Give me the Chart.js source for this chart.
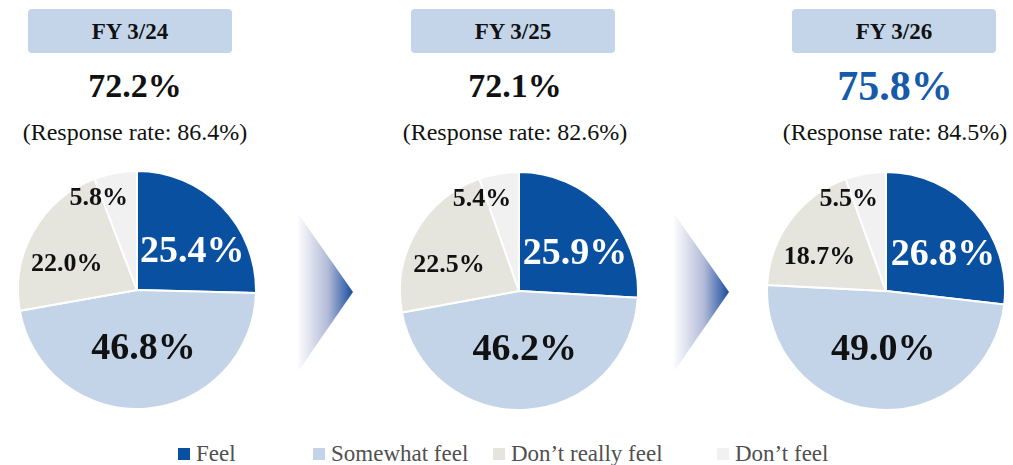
<!DOCTYPE html>
<html>
<head>
<meta charset="utf-8">
<script src="https://cdn.jsdelivr.net/npm/chart.js@4"></script>
<style>
  html, body { margin: 0; padding: 0; background: #fff; }
  body { width: 1013px; height: 465px; position: relative; overflow: hidden;
         font-family: "Liberation Serif", "Times New Roman", serif; }
  .period { position: absolute; top: 9px; width: 204px; height: 44px; background: #c4d5e9;
            border-radius: 4px; font-weight: bold; font-size: 23px; line-height: 46px;
            text-align: center; color: #111; }
  .total { position: absolute; top: 66px; width: 260px; text-align: center; font-weight: bold;
           font-size: 34px; line-height: 40px; color: #111; }
  .total.latest { color: #165aaa; font-size: 42px; }
  .rate { position: absolute; top: 117px; width: 260px; text-align: center; font-size: 24px;
          line-height: 30px; color: #111; }
  .pie { position: absolute; }
  .arrow { position: absolute; }
  .legend-item { position: absolute; top: 443px; height: 22px; font-size: 23px; line-height: 22px;
                 color: #505050; white-space: nowrap; }
  .legend-item span { display: inline-block; width: 12px; height: 12px; margin-right: 6px;
                      vertical-align: 1px; }
</style>
</head>
<body>
<script>
// survey answers per fiscal year, in percent
const categories = ['Feel', 'Somewhat feel', 'Don\u2019t really feel', 'Don\u2019t feel'];
const periods = ['FY 3/24', 'FY 3/25', 'FY 3/26'];
const feel = [25.4, 25.9, 26.8];
const somewhatFeel = [46.8, 46.2, 49.0];
const notReallyFeel = [22.0, 22.5, 18.7];
const notFeel = [5.8, 5.4, 5.5];
const positiveShare = [72.2, 72.1, 75.8];
const responseRate = [86.4, 82.6, 84.5];

const sliceColors = ['#0a50a1', '#c3d4e8', '#e5e5dd', '#f1f1f1'];
const labelColors = ['#ffffff', '#111111', '#111111', '#111111'];
const labelSizes = [38, 38, 26, 26];
// where each value label sits: share of the radius, and a turn (deg) off the slice middle
const labelRadius = [0.57, 0.49, 0.63, 0.84];
const labelTurn = [9, -2, -9, -12];

// panel layout
const boxLeft = [28, 411, 792];
const textCenter = [135, 515, 895];
const pieCenter = [[137, 290], [519, 291], [886, 291]];
const pieSize = 240;

const sliceLabels = {
  id: 'sliceLabels',
  afterDatasetsDraw(chart) {
    const ctx = chart.ctx;
    const ds = chart.data.datasets[0];
    chart.getDatasetMeta(0).data.forEach((arc, i) => {
      const p = arc.getProps(['x', 'y', 'startAngle', 'endAngle', 'outerRadius'], true);
      const a = (p.startAngle + p.endAngle) / 2 + labelTurn[i] * Math.PI / 180;
      const r = p.outerRadius * labelRadius[i];
      ctx.save();
      ctx.font = 'bold ' + labelSizes[i] + 'px "Liberation Serif", serif';
      ctx.fillStyle = labelColors[i];
      ctx.textAlign = 'center';
      ctx.textBaseline = 'middle';
      ctx.fillText(ds.data[i].toFixed(1) + '%', p.x + Math.cos(a) * r, p.y + Math.sin(a) * r + 1);
      ctx.restore();
    });
  }
};

function addDiv(cls, text, left) {
  const d = document.createElement('div');
  d.className = cls;
  d.textContent = text;
  d.style.left = left + 'px';
  document.body.appendChild(d);
  return d;
}

periods.forEach((label, k) => {
  addDiv('period', label, boxLeft[k]);
  addDiv('total' + (k === periods.length - 1 ? ' latest' : ''), positiveShare[k].toFixed(1) + '%', textCenter[k] - 130);
  addDiv('rate', '(Response rate: ' + responseRate[k].toFixed(1) + '%)', textCenter[k] - 130);

  const canvas = document.createElement('canvas');
  canvas.className = 'pie';
  canvas.width = pieSize;
  canvas.height = pieSize;
  canvas.style.left = (pieCenter[k][0] - pieSize / 2) + 'px';
  canvas.style.top = (pieCenter[k][1] - pieSize / 2) + 'px';
  document.body.appendChild(canvas);

  new Chart(canvas, {
    type: 'pie',
    data: {
      labels: categories,
      datasets: [{
        data: [feel[k], somewhatFeel[k], notReallyFeel[k], notFeel[k]],
        backgroundColor: sliceColors,
        borderColor: '#ffffff',
        borderWidth: 2
      }]
    },
    options: {
      responsive: false,
      animation: false,
      layout: { padding: 0 },
      plugins: { legend: { display: false }, tooltip: { enabled: false } }
    },
    plugins: [sliceLabels]
  });
});

// fading arrows between the years
const arrowLeft = [297, 673];
arrowLeft.forEach((x, k) => {
  const ns = 'http://www.w3.org/2000/svg';
  const svg = document.createElementNS(ns, 'svg');
  svg.setAttribute('class', 'arrow');
  svg.setAttribute('width', 58);
  svg.setAttribute('height', 164);
  svg.style.left = x + 'px';
  svg.style.top = '210px';
  svg.innerHTML =
    '<defs><linearGradient id="fade' + k + '" x1="0" x2="1" y1="0" y2="0">' +
    '<stop offset="0" stop-color="#ffffff"/>' +
    '<stop offset="0.55" stop-color="#b3bbd8"/>' +
    '<stop offset="1" stop-color="#1a4c9e"/></linearGradient></defs>' +
    '<polygon points="0,2 56,82 0,163" fill="url(#fade' + k + ')"/>';
  document.body.appendChild(svg);
});

// legend
const legendLeft = [178, 313, 493, 717];
categories.forEach((name, i) => {
  const item = document.createElement('div');
  item.className = 'legend-item';
  item.style.left = legendLeft[i] + 'px';
  const sw = document.createElement('span');
  sw.style.background = sliceColors[i];
  item.appendChild(sw);
  item.appendChild(document.createTextNode(name));
  document.body.appendChild(item);
});
</script>
</body>
</html>
